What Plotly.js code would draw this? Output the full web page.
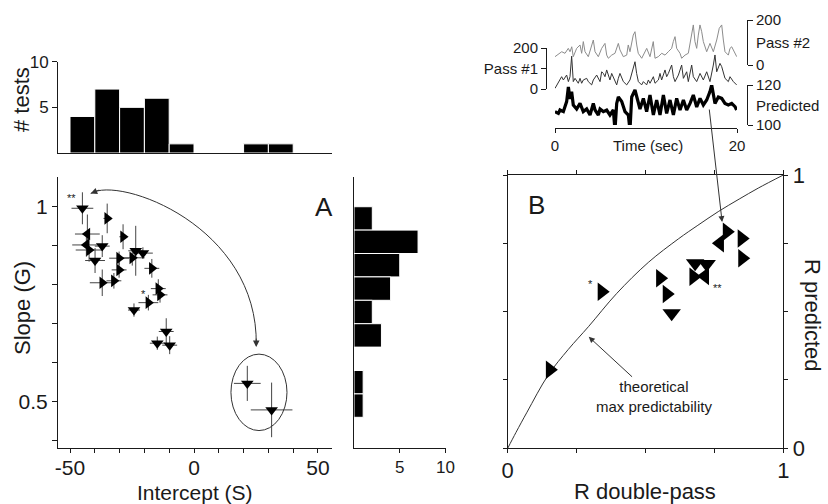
<!DOCTYPE html>
<html>
<head>
<meta charset="utf-8">
<script src="https://cdn.plot.ly/plotly-3.0.1.min.js"></script>
<style>html,body{margin:0;padding:0;background:#fff}#chart{width:828px;height:504px}</style>
</head>
<body>
<div id="chart"></div>
<script>
// ---------- Panel A: intercept vs slope ----------
const intercept = [-45.0,-35.0,-43.0,-28.6,-43.4,-37.0,-42.3,-23.5,-20.6,-39.9,-30.2,-24.9,-30.2,-17.0,-37.0,-32.3,-14.4,-13.7,-18.4,-24.2,-11.2,-14.8,-9.8,21.5,31.3];
const slope = [0.996,0.970,0.930,0.923,0.902,0.899,0.889,0.887,0.881,0.862,0.868,0.869,0.838,0.842,0.805,0.810,0.790,0.774,0.754,0.735,0.680,0.650,0.645,0.547,0.479];
const interceptErr = [4.4,1.5,5.0,1.5,5.7,3.0,5.4,3.0,4.0,4.0,4.0,5.0,3.0,3.0,5.0,3.0,3.0,3.0,4.0,2.4,3.0,3.0,3.0,5.4,8.4];
const slopeErr = [0.041,0.038,0.05,0.032,0.03,0.028,0.03,0.064,0.015,0.032,0.017,0.02,0.02,0.024,0.034,0.02,0.024,0.02,0.02,0.017,0.034,0.017,0.023,0.045,0.07];
const symbolsA = ['triangle-down','triangle-right','triangle-left','triangle-right','triangle-left','triangle-down','triangle-right','triangle-down','triangle-down','triangle-down','triangle-right','triangle-right','triangle-right','triangle-right','triangle-right','triangle-right','triangle-right','triangle-right','triangle-right','triangle-down','triangle-down','triangle-down','triangle-down','triangle-down','triangle-down'];

// histograms
const interceptBins = [-45,-35,-25,-15,-5,5,15,25,35];
const interceptCounts = [4,7,5,6,1,0,0,1,1];
const slopeBins = [0.97,0.91,0.85,0.79,0.73,0.67,0.61,0.55,0.49];
const slopeCounts = [2,7,5,4,2,3,0,1,1];

// ---------- Panel B ----------
const rDoublePass = [0.341,0.153,0.553,0.577,0.595,0.680,0.722,0.674,0.716,0.795,0.849,0.770,0.851];
const rPredicted = [0.573,0.287,0.622,0.565,0.494,0.677,0.674,0.628,0.630,0.792,0.768,0.750,0.695];
const symbolsB = ['triangle-right','triangle-right','triangle-right','triangle-right','triangle-down','triangle-down','triangle-down','triangle-right','triangle-left','triangle-right','triangle-right','triangle-left','triangle-right'];
const curveX = [0,0.03,0.07,0.147,0.22,0.293,0.395,0.51,0.619,0.69,0.764,0.84,0.909,1];
const curveY = [0,0.058,0.132,0.268,0.362,0.445,0.566,0.68,0.766,0.816,0.866,0.912,0.952,1];

// ---------- Inset time series ----------
const tPass2 = [0,0.36,0.74,1.10,1.46,1.65,1.84,2.01,2.38,2.75,2.93,3.11,3.30,3.66,4.03,4.21,4.40,4.76,5.13,5.49,5.68,5.86,6.23,6.59,6.96,7.14,7.51,7.88,8.05,8.24,8.60,8.79,8.98,9.15,9.53,10.08,10.44,10.80,10.99,11.35,11.73,12.09,12.45,12.82,13.00,13.19,13.37,13.74,13.92,14.29,14.65,15.02,15.20,15.38,15.57,15.75,15.93,16.12,16.30,16.67,17.03,17.40,17.77,18.05,18.32,18.50,18.68,19.05,19.23,19.42,19.78,19.97];
const pass2 = [37,47,59,52,74,59,81,37,74,89,52,104,59,37,81,111,59,37,74,96,44,30,44,52,96,67,37,44,89,59,133,148,89,52,30,74,37,104,30,37,52,44,59,74,104,126,74,52,30,44,52,126,178,104,74,133,178,148,104,59,96,59,111,163,178,111,59,44,74,81,52,37];
const tPass1 = [0.0,0.37,0.73,0.92,1.28,1.47,1.65,1.83,2.01,2.20,2.56,2.75,2.93,3.11,3.48,3.66,4.03,4.21,4.58,4.95,5.13,5.31,5.49,5.68,6.04,6.23,6.41,6.78,6.96,7.14,7.51,7.88,8.24,8.61,8.79,8.97,9.16,9.52,9.71,10.07,10.26,10.44,10.81,10.99,11.36,11.54,11.72,12.09,12.27,12.46,12.82,13.01,13.19,13.56,13.92,14.11,14.47,14.65,15.02,15.20,15.57,15.94,16.30,16.67,17.03,17.40,17.58,17.77,18.13,18.32,18.50,18.68,19.05,19.23,19.60,19.96];
const pass1 = [3,36,60,44,68,36,60,160,36,52,28,52,28,44,52,36,20,44,68,36,84,76,60,93,44,76,60,20,52,76,36,20,44,101,133,76,36,20,36,20,44,28,60,28,44,76,44,93,60,76,117,60,36,68,117,52,84,36,117,60,36,76,44,84,36,117,166,84,125,109,84,52,36,60,36,20];
const tPred = [0.0,0.37,0.55,0.92,1.28,1.47,1.65,1.83,2.01,2.38,2.75,3.11,3.48,3.85,4.21,4.40,4.76,4.95,5.31,5.68,6.04,6.41,6.59,6.78,6.96,7.33,7.69,8.06,8.24,8.43,8.79,9.16,9.34,9.71,10.07,10.44,10.81,11.17,11.54,11.91,12.27,12.64,13.01,13.37,13.74,14.11,14.47,14.84,15.20,15.57,15.94,16.30,16.67,17.03,17.22,17.58,17.95,18.32,18.68,19.05,19.42,19.78,19.96];
const predicted = [106.7,105.8,107.5,106.7,111.7,119,113,116.7,110,108,110.8,106.7,108,105,110.8,107.5,105,108,106.7,107.5,105,107.5,97.5,110.8,114,111.7,106.7,105,97.5,114,117.5,110.8,108,113.3,106.7,115,105,112.5,105,115,105.8,112.5,105,113.3,107.5,112.5,107.5,110.8,115,109,113.3,110,112.5,116.7,120,110.8,114,113.3,110.8,110,110.8,109.2,107.5];

const FONT = 'Liberation Sans, Arial, Helvetica, sans-serif';
const INK = '#1a1a1a';
const W = 828, H = 504;
const px = v => v / W;
const py = v => 1 - v / H;

const traces = [
  { type:'scatter', mode:'markers', x:intercept, y:slope, xaxis:'x', yaxis:'y',
    marker:{symbol:symbolsA, size:11, color:'#000', line:{width:0}},
    error_x:{type:'data', array:interceptErr, width:0, thickness:1, color:'#444'},
    error_y:{type:'data', array:slopeErr, width:0, thickness:1, color:'#444'},
    hoverinfo:'skip' },
  { type:'bar', x:interceptBins, y:interceptCounts, width:10, xaxis:'x2', yaxis:'y2',
    marker:{color:'#000', line:{color:'#fff', width:1}} },
  { type:'bar', orientation:'h', y:slopeBins, x:slopeCounts, width:0.06, xaxis:'x3', yaxis:'y3',
    marker:{color:'#000', line:{color:'#fff', width:1}} },
  { type:'scatter', mode:'lines', x:curveX, y:curveY, xaxis:'x4', yaxis:'y4',
    line:{color:'#333', width:1, shape:'spline', smoothing:1} },
  { type:'scatter', mode:'markers', x:rDoublePass, y:rPredicted, xaxis:'x4', yaxis:'y4',
    marker:{symbol:symbolsB, size:16, color:'#000', line:{width:0}} },
  { type:'scatter', mode:'lines', x:tPass2, y:pass2, xaxis:'x5', yaxis:'y5',
    line:{color:'#8c8c8c', width:1} },
  { type:'scatter', mode:'lines', x:tPass1, y:pass1, xaxis:'x5', yaxis:'y6',
    line:{color:'#333', width:1} },
  { type:'scatter', mode:'lines', x:tPred, y:predicted, xaxis:'x5', yaxis:'y7',
    line:{color:'#000', width:3.2} }
];

const baseAx = {showgrid:false, zeroline:false, showline:true, linecolor:INK, linewidth:1,
  ticks:'outside', ticklen:5, tickwidth:1, tickcolor:INK, fixedrange:true,
  tickfont:{family:FONT, size:21, color:INK}};

const xTicksA = [-50,-40,-30,-20,-10,0,10,20,30,40,50];
const xTextA = ['-50','','','','','0','','','','','50'];
const yTicksA = [0.4,0.5,0.6,0.7,0.8,0.9,1.0];
const yTextA = ['','0.5','','','','','1'];

const layout = {
  width:W, height:H, margin:{l:0,r:0,t:0,b:0}, showlegend:false,
  paper_bgcolor:'#fff', plot_bgcolor:'rgba(0,0,0,0)',
  font:{family:FONT, color:INK}, bargap:0,
  xaxis: Object.assign({}, baseAx, {domain:[px(58),px(332)], range:[-54.84,55.65], anchor:'y',
    ticklen:4, ticklabelstandoff:-3, tickmode:'array', tickvals:xTicksA, ticktext:xTextA}),
  yaxis: Object.assign({}, baseAx, {domain:[py(448),py(177)], range:[0.3813,1.0762], anchor:'x',
    tickmode:'array', tickvals:yTicksA, ticktext:yTextA}),
  xaxis2: Object.assign({}, baseAx, {domain:[px(58),px(332)], range:[-54.84,55.65], anchor:'y2',
    ticks:'', showticklabels:false}),
  yaxis2: Object.assign({}, baseAx, {domain:[py(153),py(61.7)], range:[0,10], anchor:'x2',
    tickmode:'array', tickvals:[5,10], ticktext:['5','10'], tickfont:{family:FONT,size:17,color:INK}}),
  xaxis3: Object.assign({}, baseAx, {domain:[px(354),px(445.5)], range:[0,10], anchor:'y3',
    ticklen:4, tickmode:'array', tickvals:[5,10], ticktext:['5','10'], tickfont:{family:FONT,size:17,color:INK}}),
  yaxis3: Object.assign({}, baseAx, {domain:[py(448),py(177)], range:[0.3813,1.0762], anchor:'x3',
    ticks:'', showticklabels:false}),
  xaxis4: Object.assign({}, baseAx, {domain:[px(507.7),px(783.3)], range:[0,1], anchor:'y4',
    mirror:'ticks', ticklen:4, ticklabelstandoff:-2, tickmode:'array', tickvals:[0,0.25,0.5,0.75,1], ticktext:['0','','','','1'], tickfont:{family:FONT,size:22,color:INK}}),
  yaxis4: Object.assign({}, baseAx, {domain:[py(448.3),py(175)], range:[0,1], anchor:'x4', side:'right',
    mirror:'ticks', ticklen:4, tickmode:'array', tickvals:[0,0.25,0.5,0.75,1], ticktext:['0','','','','1'], tickfont:{family:FONT,size:22,color:INK}}),
  xaxis5: Object.assign({}, baseAx, {domain:[px(555),px(737)], range:[0,20], anchor:'free', position:py(128),
    ticklen:4, tickmode:'array', tickvals:[0,20], ticktext:['0','20'], tickfont:{family:FONT,size:15,color:INK}}),
  yaxis5: Object.assign({}, baseAx, {domain:[py(65),py(20)], range:[0,200], anchor:'free', position:px(747), side:'right',
    ticklen:5, tickmode:'array', tickvals:[0,200], ticktext:['0','200'], tickfont:{family:FONT,size:15,color:INK}}),
  yaxis6: Object.assign({}, baseAx, {domain:[py(89),py(48)], range:[0,200], anchor:'free', position:px(546), side:'left',
    ticklen:5, tickmode:'array', tickvals:[0,100,200], ticktext:['0','Pass #1','200'], tickfont:{family:FONT,size:15,color:INK}}),
  yaxis7: Object.assign({}, baseAx, {domain:[py(125),py(85)], range:[100,120], anchor:'free', position:px(747), side:'right',
    ticklen:5, tickmode:'array', tickvals:[100,120], ticktext:['100','120'], tickfont:{family:FONT,size:15,color:INK}}),
  shapes:[
    {type:'circle', xref:'x', yref:'y', x0:14.9, x1:37.5, y0:0.426, y1:0.622, line:{color:'#333', width:1}},
    {type:'path', xref:'x', yref:'y', path:'M -41.65,1.034 C -30,1.08 26,0.95 25.1,0.645', line:{color:'#333', width:1}}
  ],
  annotations:[
    {text:'# tests', xref:'paper', yref:'paper', x:px(22), y:py(100), textangle:-90, showarrow:false, font:{size:22}, xanchor:'center', yanchor:'middle'},
    {text:'Slope (G)', xref:'paper', yref:'paper', x:px(22), y:py(308), textangle:-90, showarrow:false, font:{size:22}, xanchor:'center', yanchor:'middle'},
    {text:'Intercept (S)', xref:'paper', yref:'paper', x:px(195), y:py(492), showarrow:false, font:{size:21}, xanchor:'center', yanchor:'middle'},
    {text:'A', xref:'x', yref:'y', x:52.4, y:1.0, showarrow:false, font:{size:26}, xanchor:'center', yanchor:'middle'},
    {text:'**', xref:'x', yref:'y', x:-49.5, y:1.022, showarrow:false, font:{size:11}, xanchor:'center', yanchor:'middle'},
    {text:'*', xref:'x', yref:'y', x:-20.3, y:0.776, showarrow:false, font:{size:11}, xanchor:'center', yanchor:'middle'},
    {text:'', xref:'x', yref:'y', x:-41.65, y:1.034, ax:10, ay:-4, showarrow:true, arrowhead:2, arrowsize:1.3, arrowwidth:1, arrowcolor:'#333'},
    {text:'', xref:'x', yref:'y', x:25.1, y:0.64, ax:0, ay:-10, showarrow:true, arrowhead:2, arrowsize:1.3, arrowwidth:1, arrowcolor:'#333'},
    {text:'B', xref:'x4', yref:'y4', x:0.105, y:0.89, showarrow:false, font:{size:26}, xanchor:'center', yanchor:'middle'},
    {text:'*', xref:'x4', yref:'y4', x:0.302, y:0.6, showarrow:false, font:{size:11}, xanchor:'center', yanchor:'middle'},
    {text:'**', xref:'x4', yref:'y4', x:0.76, y:0.588, showarrow:false, font:{size:11}, xanchor:'center', yanchor:'middle'},
    {text:'R double-pass', xref:'paper', yref:'paper', x:px(645), y:py(491), showarrow:false, font:{size:22}, xanchor:'center', yanchor:'middle'},
    {text:'R predicted', xref:'paper', yref:'paper', x:px(813), y:py(315), textangle:90, showarrow:false, font:{size:22}, xanchor:'center', yanchor:'middle'},
    {text:'theoretical<br>max predictability', xref:'x4', yref:'y4', x:0.294, y:0.408, ax:65, ay:60,
      showarrow:true, arrowhead:2, arrowsize:1.2, arrowwidth:1, arrowcolor:'#333', font:{size:15}, align:'center'},
    {text:'', xref:'x4', yref:'y4', x:0.778, y:0.828, ax:-13, ay:-114, showarrow:true, arrowhead:2, arrowsize:1.2, arrowwidth:1, arrowcolor:'#333'},
    {text:'Time (sec)', xref:'paper', yref:'paper', x:px(648), y:py(145), showarrow:false, font:{size:15}, xanchor:'center', yanchor:'middle'},
    {text:'Pass #2', xref:'paper', yref:'paper', x:px(754), y:py(42), showarrow:false, font:{size:15}, xanchor:'left', yanchor:'middle'},
    {text:'Predicted', xref:'paper', yref:'paper', x:px(754), y:py(105), showarrow:false, font:{size:15}, xanchor:'left', yanchor:'middle'}
  ]
};

Plotly.newPlot('chart', traces, layout, {staticPlot:true, displayModeBar:false});
</script>
</body>
</html>
